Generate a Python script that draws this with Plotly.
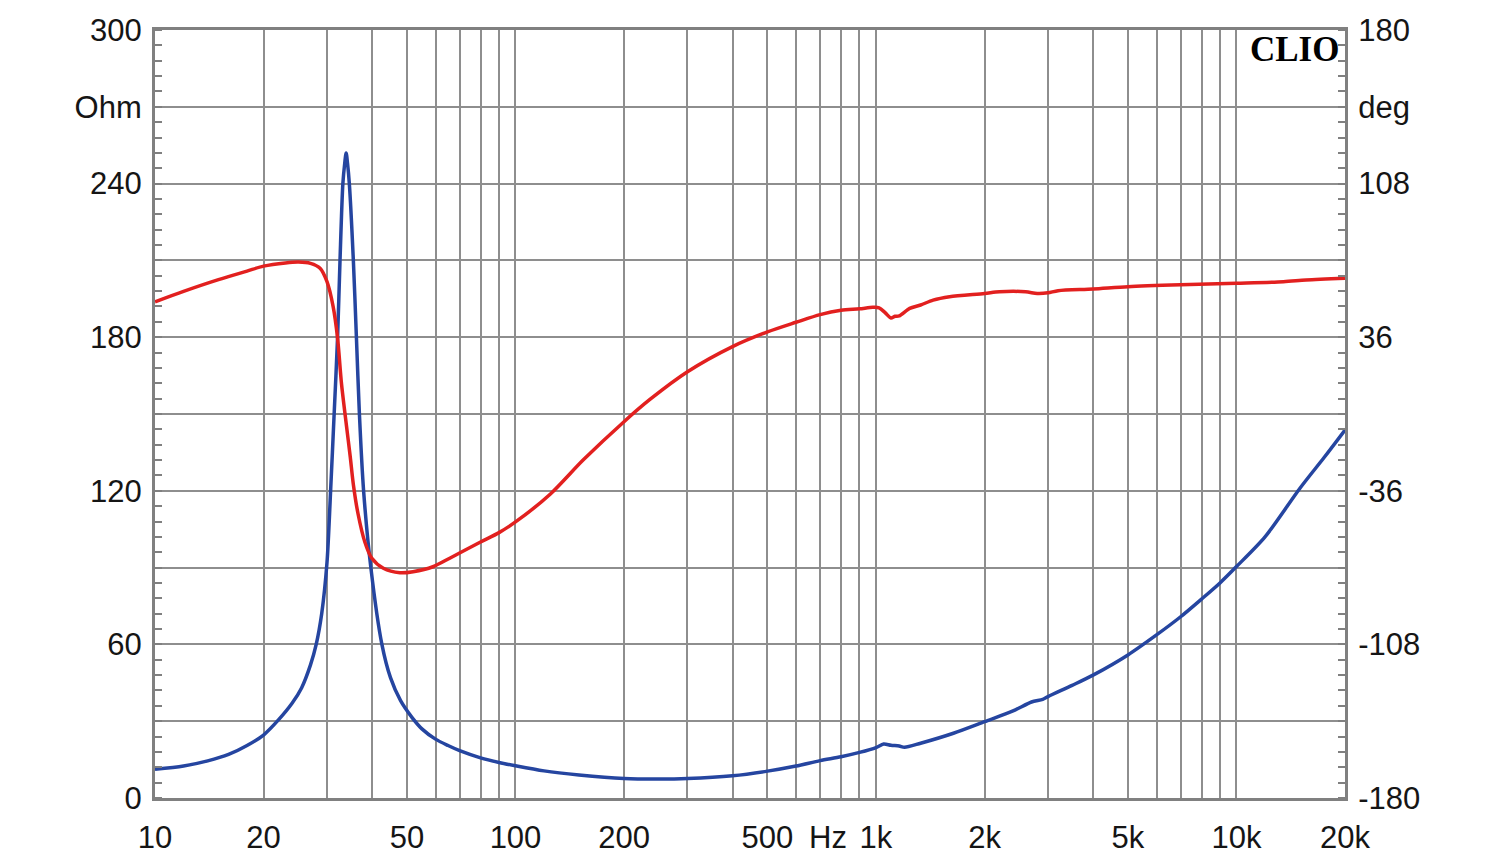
import plotly.graph_objects as go
import numpy as np

# impedance magnitude (blue, left axis)
imp_freq = [10, 12, 14, 16, 18, 20, 22, 24, 25.5, 27, 28, 29, 30, 30.7, 31.4, 32.1,
            32.6, 33.2, 33.6, 33.9, 34.2, 34.6, 35.5, 36.2, 36.9, 37.9, 39.7, 42.6,
            45, 48, 51.6, 55, 60, 65, 70, 80, 90, 100, 120, 150, 200, 250, 300, 400,
            500, 600, 700, 800, 900, 1000, 1050, 1100, 1160, 1200, 1330, 1640, 2000,
            2400, 2700, 2900, 3000, 3500, 4000, 5000, 6000, 7000, 8000, 9000, 10000,
            12000, 15000, 17500, 20000]
imp_ohm = [11.2, 12.5, 14.5, 17, 20.5, 24.6, 30.5, 37, 43, 52, 60, 72, 92, 120, 150, 180,
           210, 240, 248, 252, 248, 240, 210, 180, 150, 120, 90, 60,
           47, 38, 31.5, 27, 23, 20.5, 18.5, 15.7, 13.9, 12.6, 10.6, 9, 7.6, 7.4, 7.6, 8.7,
           10.5, 12.5, 14.6, 16.1, 17.8, 19.7, 21.1, 20.6, 20.3, 19.8, 21.4, 25.3, 29.8,
           34, 37.5, 38.5, 39.6, 44, 48, 55.9, 63.7, 70.8, 77.7, 84, 90.4,
           102, 121, 133, 143.75]

# phase (red, right axis)
ph_freq = [10, 12, 15, 18, 20, 23, 25, 27, 28.7, 30, 31.2, 32.1, 32.9, 34, 34.8, 35.5,
           36.6, 38.2, 39.9, 43, 47.8, 52, 59, 65.7, 80, 90, 100, 125, 154, 200, 236, 300,
           400, 500, 600, 700, 800, 900, 980, 1020, 1060, 1100, 1130, 1160, 1240, 1330,
           1440, 1600, 2000, 2200, 2600, 2800, 3000, 3200, 4000, 5000, 7000, 10000,
           13500, 15600, 20000]
ph_deg = [52.6, 57.5, 63, 67, 69.3, 70.8, 71.2, 70.6, 68.3, 62, 50.3, 35.5, 14.4, -6, -20, -33,
          -47, -60, -67.5, -72.3, -74.4, -73.9, -71.6, -67.6, -60, -55.6, -50.6, -37.5, -21.6, -3.6, 6.8, 19.8,
          31.6, 38.5, 43, 46.6, 48.6, 49.3, 50, 49.8, 47.5, 45, 45.8, 46, 49.5, 51.1,
          53.4, 55, 56.5, 57.3, 57.3, 56.5, 56.8, 57.8, 58.6, 59.7, 60.6, 61.3,
          62, 62.8, 63.6]

x_ticks = [10, 20, 50, 100, 200, 500, 1000, 2000, 5000, 10000, 20000]
x_labels = ['10', '20', '50', '100', '200', '500', '1k', '2k', '5k', '10k', '20k']
x_minor = [m * d for d in [10, 100, 1000, 10000] for m in range(1, 10)
           if m * d <= 20000 and m * d not in x_ticks]

y_ticks = list(range(0, 301, 30))
y_labels = ['0', '', '60', '', '120', '', '180', '', '240', 'Ohm', '300']
y2_ticks = [-180, -108, -36, 36, 108, 144, 180]
y2_labels = ['-180', '-108', '-36', '36', '108', 'deg', '180']

grid = '#8e8e8e'
frame = '#808080'
font = dict(family='Liberation Sans, Arial', size=31, color='#151515')

fig = go.Figure()
fig.add_trace(go.Scatter(x=imp_freq, y=imp_ohm, mode='lines',
                         line=dict(color='#2545a0', width=3.5, shape='spline', smoothing=0.8),
                         showlegend=False))
fig.add_trace(go.Scatter(x=ph_freq, y=ph_deg, mode='lines', yaxis='y2',
                         line=dict(color='#e2201f', width=3.5, shape='spline', smoothing=0.8),
                         showlegend=False))

# page body has an 8px margin, so the figure is offset by (8, 8)
fig.update_layout(
    width=1484, height=848,
    margin=dict(l=147, r=147, t=22, b=58),
    plot_bgcolor='white', paper_bgcolor='white',
    font=font,
    xaxis=dict(type='log', range=[1, np.log10(20000)],
               tickvals=x_ticks, ticktext=x_labels, ticks='',
               showgrid=True, gridcolor=grid, gridwidth=1.5,
               minor=dict(tickvals=x_minor, showgrid=True, gridcolor=grid, gridwidth=1.5, ticks=''),
               showline=True, linecolor=frame, linewidth=3, mirror=True,
               zeroline=False, ticklabelstandoff=10, automargin=False),
    yaxis=dict(range=[0, 300], tickvals=y_ticks, ticktext=y_labels, ticks='',
               showgrid=True, gridcolor=grid, gridwidth=1.5,
               minor=dict(dtick=6, ticks='inside', ticklen=7, tickwidth=1.5, tickcolor=frame, showgrid=False),
               showline=True, linecolor=frame, linewidth=3,
               zeroline=False, ticklabelstandoff=4, automargin=False),
    yaxis2=dict(range=[-180, 180], overlaying='y', side='right',
                tickvals=y2_ticks, ticktext=y2_labels, ticks='',
                showgrid=False,
                minor=dict(dtick=7.2, tick0=-180, ticks='inside', ticklen=7, tickwidth=1.5, tickcolor=frame, showgrid=False),
                showline=True, linecolor=frame, linewidth=3,
                zeroline=False, ticklabelstandoff=4, automargin=False),
)

fig.add_annotation(x=np.log10(736), y=0, xref='x', yref='paper', yanchor='middle',
                   yshift=-39, text='Hz', showarrow=False, font=font)
fig.add_annotation(x=1, y=1, xref='paper', yref='paper', xanchor='right', yanchor='top',
                   xshift=-4, yshift=2, text='<b>CLIO</b>', showarrow=False,
                   font=dict(family='Liberation Serif', size=35, color='black'))

fig.write_html("out.html")
